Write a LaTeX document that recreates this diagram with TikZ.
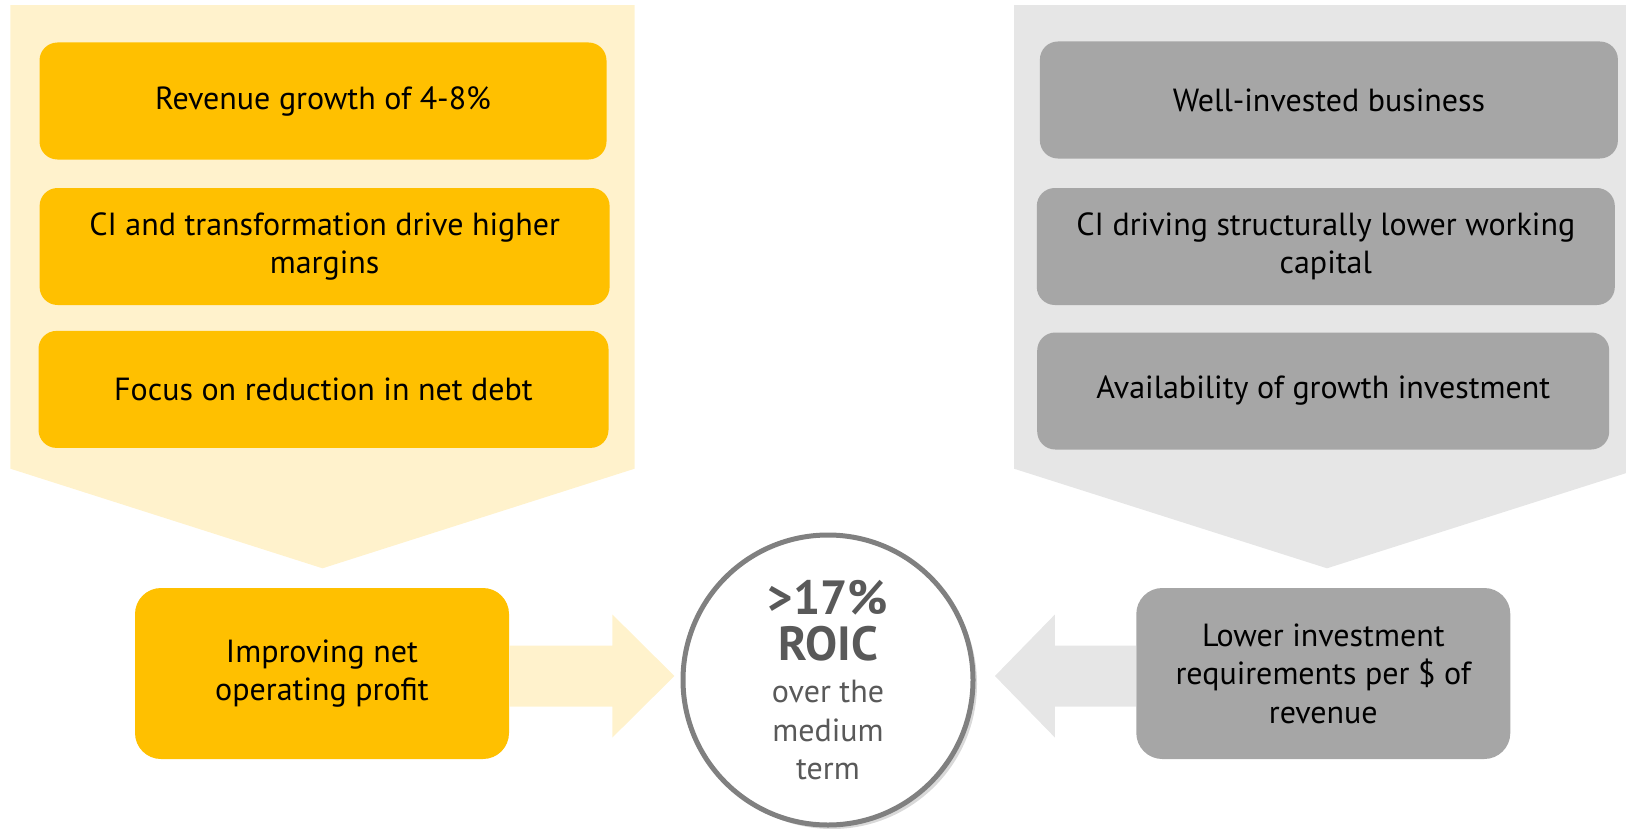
\documentclass[tikz,border=0pt]{standalone}
\usepackage{fontspec}
\setmainfont{PT Sans}
\definecolor{kgold}{RGB}{255,192,0}
\definecolor{kcream}{RGB}{255,242,204}
\definecolor{kgrey}{RGB}{166,166,166}
\definecolor{kmist}{RGB}{230,230,230}
\definecolor{kring}{RGB}{128,128,128}
\definecolor{kink}{RGB}{89,89,89}
\usetikzlibrary{positioning,calc,shadows}

\begin{document}
\begin{tikzpicture}[
  x=0.5pt,y=-0.5pt,
  card/.style={rounded corners=9pt,minimum width=283.5pt,minimum height=58.5pt,
    inner sep=0pt,align=center,font=\fontsize{16}{19.2}\selectfont},
  goal/.style={rounded corners=13pt,minimum width=187pt,minimum height=85.5pt,
    inner sep=0pt,align=center,font=\fontsize{16}{19.2}\selectfont},
  ring/.style={circle,draw=kring,line width=2.5pt,fill=white,minimum size=145pt,
    inner sep=0pt,align=center,text=kink,font=\fontsize{16}{19.2}\selectfont,
    drop shadow={shadow xshift=2pt,shadow yshift=-2pt,opacity=0.3}},
  big/.style={font=\fontsize{24}{26}\selectfont\bfseries}
]
  \clip (0,0) rectangle (1626,829);
  % Chevrons
  \fill[kcream] (10.4,5.2) -- (634.6,5.2) -- (634.6,468.7) -- (322.5,568.3) -- (10.4,468.7) -- cycle;
  \fill[kmist] (1014,5.2) -- (1640,5.2) -- (1640,468.7) -- (1327,568.3) -- (1014,468.7) -- cycle;
  % Left column
  \node[card,fill=kgold] (rev) at (323,101) {Revenue growth of 4-8\%};
  \node[card,fill=kgold,minimum width=285pt] (marg) at (324.6,246.5) {CI and transformation drive higher\\margins};
  \node[card,fill=kgold,minimum width=285pt] (debt) at (323.5,389.4) {Focus on reduction in net debt};
  % Right column
  \node[card,fill=kgrey,minimum width=289pt] (wib) at (1328.9,100) {Well-invested business};
  \node[card,fill=kgrey,minimum width=289pt] (wcap) at (1325.8,246.5) {CI driving structurally lower working\\capital};
  \node[card,fill=kgrey,minimum width=286pt] (gri) at (1323.2,391) {Availability of growth investment};
  % Bottom row
  \node[goal,fill=kgold] (nopat) at (322,673.5) {Improving net\\operating profit};
  \node[goal,fill=kgrey] (lir) at (1323.3,673.5) {Lower investment\\requirements per \$ of\\revenue};
  \node[ring] (roic) at (828,680) {{\fontsize{24}{26}\selectfont\bfseries >17\%}\\[4pt]{\fontsize{24}{26}\selectfont\bfseries ROIC}\\[2pt]over the\\medium\\term};
  % Block arrows
  \fill[kcream] ($(nopat.east)+(0,-28)$) -- ++(103,0) -- ++(0,-31) -- ($(nopat.east)+(165,2.5)$)
    -- ++(-62,61.5) -- ++(0,-31) -- ($(nopat.east)+(0,33)$) -- cycle;
  \fill[kmist] ($(lir.west)+(0,-28)$) -- ++(-81,0) -- ++(0,-31) -- ($(lir.west)+(-141,2.5)$)
    -- ++(60,61.5) -- ++(0,-31) -- ($(lir.west)+(0,33)$) -- cycle;
\end{tikzpicture}
\end{document}
